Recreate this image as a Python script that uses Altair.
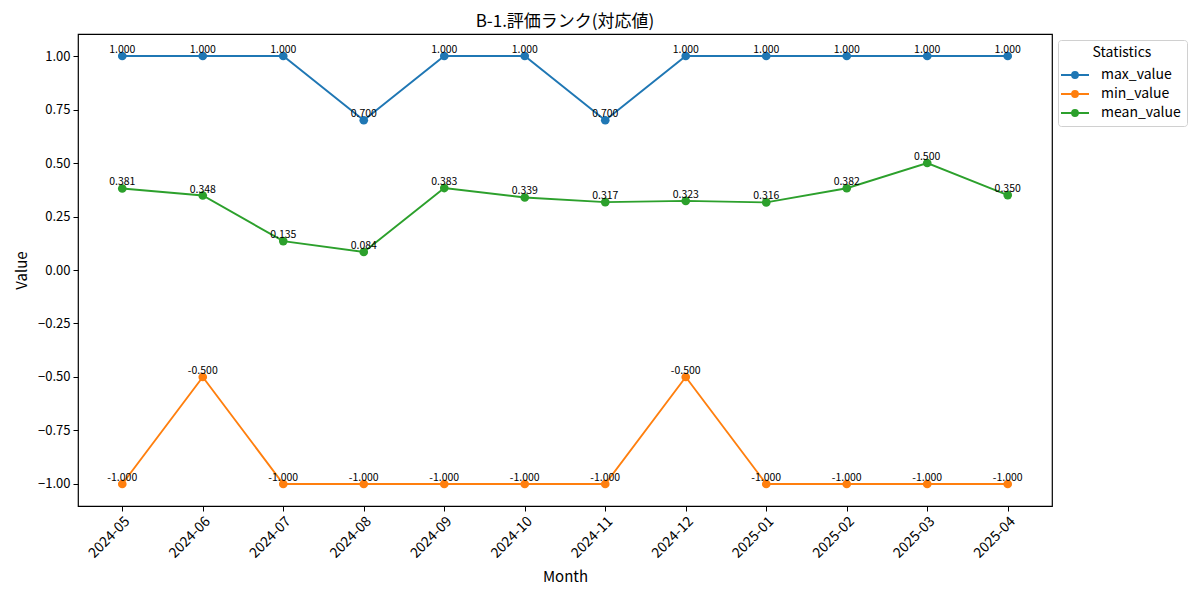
import altair as alt
import pandas as pd

months = ["2024-05", "2024-06", "2024-07", "2024-08", "2024-09", "2024-10",
          "2024-11", "2024-12", "2025-01", "2025-02", "2025-03", "2025-04"]
max_value = [1.0, 1.0, 1.0, 0.7, 1.0, 1.0, 0.7, 1.0, 1.0, 1.0, 1.0, 1.0]
min_value = [-1.0, -0.5, -1.0, -1.0, -1.0, -1.0, -1.0, -0.5, -1.0, -1.0, -1.0, -1.0]
mean_value = [0.381, 0.348, 0.135, 0.084, 0.383, 0.339, 0.317, 0.323, 0.316, 0.382, 0.500, 0.350]
series_names = ["max_value", "min_value", "mean_value"]
series_colors = ["#1f77b4", "#ff7f0e", "#2ca02c"]
y_ticks = [-1.0, -0.75, -0.5, -0.25, 0.0, 0.25, 0.5, 0.75, 1.0]

rows = []
for name, vals in zip(series_names, [max_value, min_value, mean_value]):
    for m, v in zip(months, vals):
        rows.append({"Month": m, "Value": v, "series": name, "label": f"{v:.3f}"})
df = pd.DataFrame(rows)

FONT = "Noto Sans CJK JP"

x_enc = alt.X("Month:O", sort=months,
              scale=alt.Scale(type="point", padding=0.55),
              axis=alt.Axis(title="Month", labelAngle=-45, labelAlign="right",
                            labelBaseline="top", labelFontSize=14, titleFontSize=15,
                            labelColor="black", titleColor="black", tickColor="black",
                            tickSize=5, labelPadding=3,
                            domain=False, titleFontWeight="normal", titlePadding=9,
                            labelFont=FONT, titleFont=FONT))
y_enc = alt.Y("Value:Q",
              scale=alt.Scale(domain=[-1.103, 1.103], nice=False, zero=False),
              axis=alt.Axis(title="Value", values=y_ticks, format=".2f", grid=False,
                            labelFontSize=13, titleFontSize=15, labelColor="black",
                            titleColor="black", tickColor="black", domain=False,
                            tickSize=5, labelPadding=3, titlePadding=8,
                            titleFontWeight="normal", labelFont=FONT, titleFont=FONT))
color_enc = alt.Color("series:N",
                      scale=alt.Scale(domain=series_names, range=series_colors),
                      sort=series_names,
                      legend=alt.Legend(title="Statistics", orient="none",
                                        legendX=980, legendY=6,
                                        symbolType="M-1.4,0H1.4M-0.3,0a0.3,0.3 0 1,0 0.6,0a0.3,0.3 0 1,0 -0.6,0",
                                        symbolSize=400, symbolStrokeWidth=1.8,
                                        labelOffset=15,
                                        labelFontSize=14, titleFontSize=14,
                                        titleFontWeight="normal", labelFont=FONT, titleFont=FONT,
                                        labelColor="black", titleColor="black",
                                        titleAnchor="middle", titleAlign="center",
                                        titlePadding=4,
                                        strokeColor="#d0d0d0", fillColor="white",
                                        cornerRadius=3, padding=6, rowPadding=1))

base = alt.Chart(df)
lines = base.mark_line(strokeWidth=1.9).encode(x=x_enc, y=y_enc, color=color_enc)
points = base.mark_point(filled=True, size=75, opacity=1).encode(x=x_enc, y=y_enc, color=color_enc)
texts = base.mark_text(fontSize=10.5, baseline="bottom", dy=-1, font=FONT, color="black").encode(
    x=x_enc, y=y_enc, text="label:N")

chart = alt.layer(lines, points, texts).properties(
    width=974, height=472,
    background="white",
    padding={"left": 6, "top": 5, "right": 0, "bottom": 5},
    title=alt.TitleParams("B-1.評価ランク(対応値)", fontSize=17, font=FONT,
                          fontWeight="normal", color="black", anchor="middle", offset=3),
).configure_view(stroke="black", strokeWidth=1.2)

chart.save("out.html", embed_options={"renderer": "svg", "actions": False})
